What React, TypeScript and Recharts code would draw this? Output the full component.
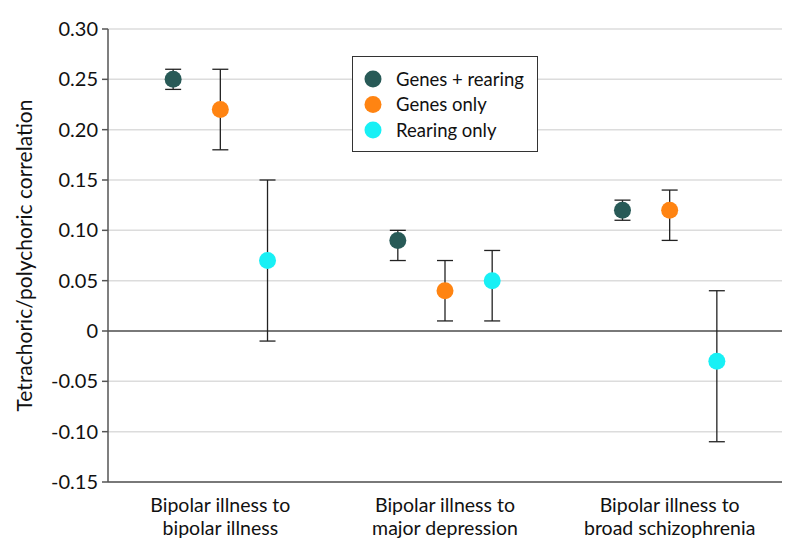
import React from "react";
import {
  ScatterChart,
  Scatter,
  XAxis,
  YAxis,
  CartesianGrid,
  ReferenceLine,
  ErrorBar,
} from "recharts";

const categories = [
  ["Bipolar illness to", "bipolar illness"],
  ["Bipolar illness to", "major depression"],
  ["Bipolar illness to", "broad schizophrenia"],
];
const seriesNames = ["Genes + rearing", "Genes only", "Rearing only"];
const seriesColors = ["#285a57", "#ff8412", "#18f0f5"];

const genesRearing = [0.25, 0.09, 0.12];
const genesRearingLow = [0.24, 0.07, 0.11];
const genesRearingHigh = [0.26, 0.1, 0.13];

const genesOnly = [0.22, 0.04, 0.12];
const genesOnlyLow = [0.18, 0.01, 0.09];
const genesOnlyHigh = [0.26, 0.07, 0.14];

const rearingOnly = [0.07, 0.05, -0.03];
const rearingOnlyLow = [-0.01, 0.01, -0.11];
const rearingOnlyHigh = [0.15, 0.08, 0.04];

const yTicks = [-0.15, -0.1, -0.05, 0, 0.05, 0.1, 0.15, 0.2, 0.25, 0.3];

const offsets = [-0.21, 0, 0.21];
const FONT = "Lato, 'Open Sans', sans-serif";

function build(vals: number[], lows: number[], highs: number[], s: number) {
  return vals.map((v, i) => ({
    x: i + 0.5 + offsets[s],
    y: v,
    err: [v - lows[i], highs[i] - v],
  }));
}

const series = [
  build(genesRearing, genesRearingLow, genesRearingHigh, 0),
  build(genesOnly, genesOnlyLow, genesOnlyHigh, 1),
  build(rearingOnly, rearingOnlyLow, rearingOnlyHigh, 2),
];

const XTick = (props: any) => {
  const { x, y, payload } = props;
  const idx = Math.round(payload.value - 0.5);
  const lines = categories[idx] || [];
  return (
    <g transform={`translate(${x},${y})`}>
      {lines.map((l, k) => (
        <text
          key={k}
          x={0}
          y={22 + k * 23}
          textAnchor="middle"
          fontSize={19.5}
          fontFamily={FONT}
          fill="#111"
        >
          {l}
        </text>
      ))}
    </g>
  );
};

const LegendBox = () => (
  <svg
    width={186}
    height={96}
    style={{ position: "absolute", left: 344, top: 48 }}
  >
    <rect x={0.5} y={0.5} width={185} height={95} fill="#fff" stroke="#333" strokeWidth={1} />
    {seriesNames.map((n, i) => (
      <g key={n}>
        <circle cx={21} cy={23 + i * 25.5} r={8.5} fill={seriesColors[i]} />
        <text
          x={44}
          y={23 + i * 25.5}
          dy="0.36em"
          fontSize={18.5}
          fontFamily={FONT}
          fill="#111"
        >
          {n}
        </text>
      </g>
    ))}
  </svg>
);

export default function App() {
  return (
    <div style={{ position: "relative", width: 786, height: 540 }}>
      <ScatterChart
        width={786}
        height={540}
        margin={{ top: 21, right: 12, bottom: 6, left: 0 }}
      >
        <CartesianGrid vertical={false} stroke="#dcdcdc" strokeWidth={1.5} />
        <XAxis
          type="number"
          dataKey="x"
          domain={[0, 3]}
          ticks={[0.5, 1.5, 2.5]}
          tick={<XTick />}
          tickLine={false}
          axisLine={{ stroke: "#555", strokeWidth: 1.5 }}
          height={60}
          interval={0}
        />
        <YAxis
          type="number"
          dataKey="y"
          domain={[-0.15, 0.3]}
          ticks={yTicks}
          interval={0}
          width={100}
          tickSize={6}
          tickMargin={4}
          tickLine={{ stroke: "#555", strokeWidth: 1.5 }}
          axisLine={{ stroke: "#555", strokeWidth: 1.5 }}
          tick={{ fontSize: 20, fontFamily: FONT, fill: "#111" }}
          tickFormatter={(v: number) => (v === 0 ? "0" : v.toFixed(2))}
          label={{
            value: "Tetrachoric/polychoric correlation",
            angle: -90,
            position: "insideLeft",
            dx: 12,
            style: {
              textAnchor: "middle",
              fontSize: 21,
              fontFamily: FONT,
              fill: "#111",
            },
          }}
        />
        <ReferenceLine y={0} stroke="#555" strokeWidth={1.5} />
        {series.map((d, s) => (
          <Scatter
            key={s}
            name={seriesNames[s]}
            data={d}
            fill={seriesColors[s]}
            isAnimationActive={false}
            shape={(p: any) => (
              <circle cx={p.cx} cy={p.cy} r={8.5} fill={seriesColors[s]} />
            )}
          >
            <ErrorBar
              dataKey="err"
              direction="y"
              width={8}
              stroke="#222"
              strokeWidth={1.3}
              isAnimationActive={false}
            />
          </Scatter>
        ))}
      </ScatterChart>
      <LegendBox />
    </div>
  );
}
